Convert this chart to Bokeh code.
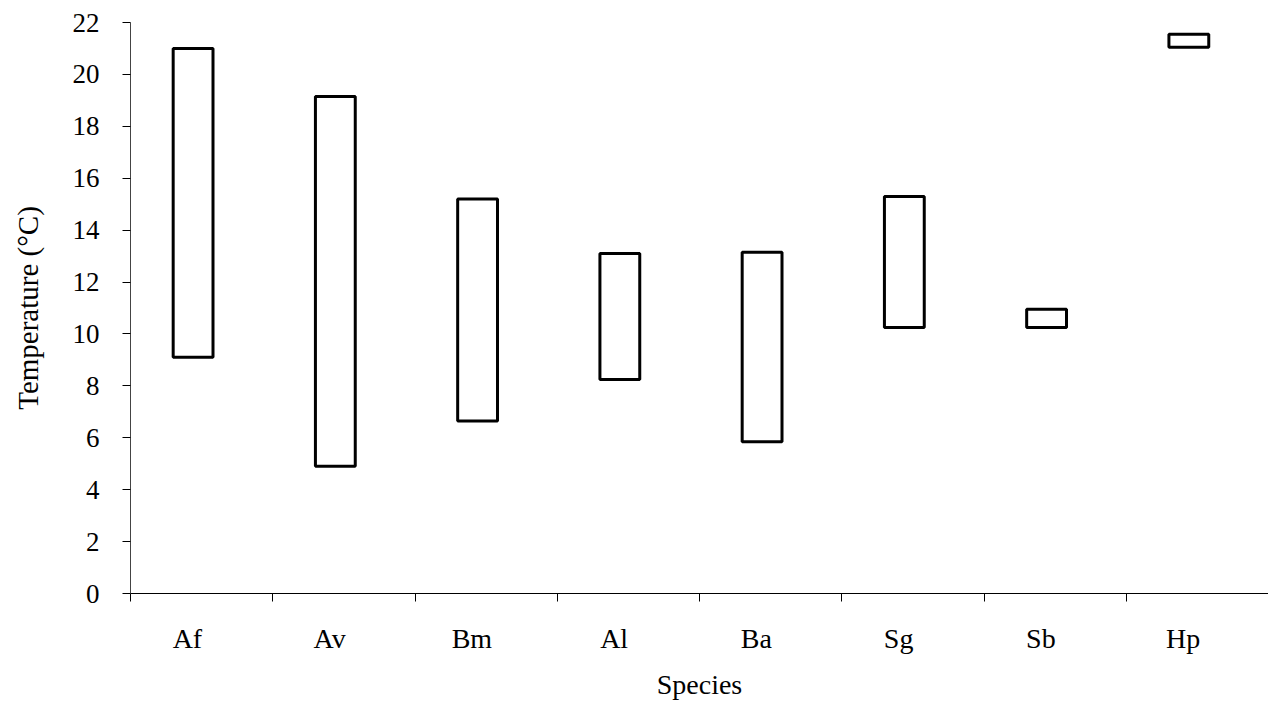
import numpy as np
from bokeh.plotting import figure
from bokeh.models import Range1d, FixedTicker, ColumnDataSource
from bokeh.embed import file_html
from bokeh.resources import INLINE

# ---- data ----
species = ["Af", "Av", "Bm", "Al", "Ba", "Sg", "Sb", "Hp"]
temp_min = [9.1, 4.9, 6.65, 8.25, 5.85, 10.25, 10.25, 21.05]
temp_max = [21.0, 19.15, 15.2, 13.1, 13.15, 15.3, 10.95, 21.55]
y_ticks = list(range(0, 23, 2))

FONT = "Liberation Serif"

n = len(species)
idx = np.arange(n)
src = ColumnDataSource(dict(
    x=idx + 0.5 - 0.06,
    lo=temp_min,
    hi=temp_max,
    name=species,
))

p = figure(width=1268, height=702, output_backend="svg", toolbar_location=None,
           x_range=Range1d(0, n), y_range=Range1d(0, 22),
           min_border_left=130, min_border_right=0, min_border_top=22,
           min_border_bottom=104)
p.outline_line_color = None
p.grid.grid_line_color = None
p.background_fill_color = "white"

p.vbar(x="x", width=0.28, bottom="lo", top="hi", source=src,
       fill_color="white", line_color="black", line_width=3)

# x axis: ticks between categories (minor), labels at category centres (major)
label_pos = [float(i) + 0.4 for i in idx]
xt = FixedTicker(ticks=label_pos, minor_ticks=[float(i) for i in range(n + 1)])
xa = p.xaxis[0]
xa.ticker = xt
xa.major_label_overrides = {pos: s for pos, s in zip(label_pos, species)}
xa.major_tick_out = 0
xa.major_tick_in = 0
xa.minor_tick_out = 8
xa.minor_tick_in = 0
xa.minor_tick_line_color = "black"
xa.axis_line_color = "black"
xa.major_label_text_font = FONT
xa.major_label_text_font_size = "28px"
xa.major_label_text_color = "black"
xa.major_label_standoff = 21
xa.axis_label = "Species"
xa.axis_label_text_font = FONT
xa.axis_label_text_font_size = "28px"
xa.axis_label_text_font_style = "normal"
xa.axis_label_text_color = "black"
xa.axis_label_standoff = 12

ya = p.yaxis[0]
ya.ticker = FixedTicker(ticks=y_ticks)
ya.major_tick_out = 8
ya.major_tick_in = 0
ya.minor_tick_out = 0
ya.minor_tick_in = 0
ya.major_tick_line_color = "black"
ya.axis_line_color = "#444444"
ya.major_label_text_font = FONT
ya.major_label_text_font_size = "27px"
ya.major_label_text_color = "black"
ya.major_label_standoff = 23
ya.axis_label = "Temperature (\u00b0C)"
ya.axis_label_text_font = FONT
ya.axis_label_text_font_size = "29px"
ya.axis_label_text_font_style = "normal"
ya.axis_label_text_color = "black"
ya.axis_label_standoff = 26

open("out.html", "w").write(file_html(p, INLINE))
